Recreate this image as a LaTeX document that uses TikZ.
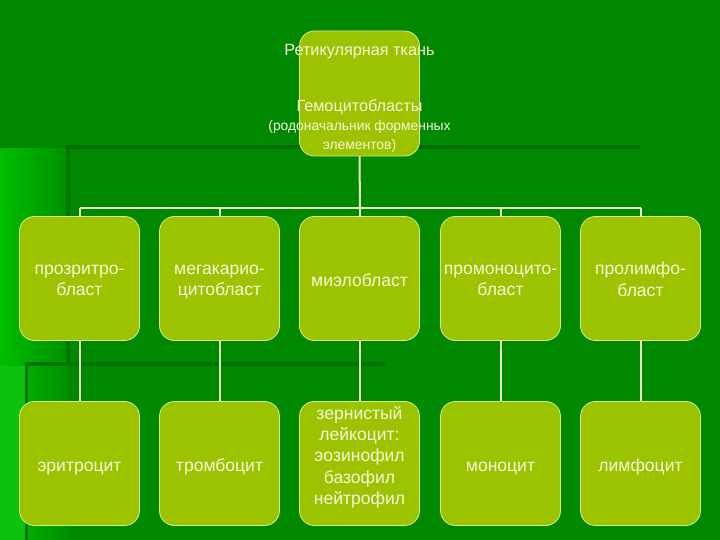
\documentclass[tikz,border=0pt]{standalone}
\usepackage{fontspec}
\setmainfont{Liberation Sans}
\usepackage{xcolor}
\usetikzlibrary{positioning}
\definecolor{bgGreen}{HTML}{008800}
\definecolor{bgLight}{HTML}{00BE00}
\definecolor{bgDark}{HTML}{006C00}
\definecolor{cellFill}{HTML}{9CC300}
\definecolor{cellEdge}{HTML}{D6EE8A}
\definecolor{cellText}{HTML}{F6F6DA}
\definecolor{wireCol}{HTML}{E8F6CC}
\newcommand{\bigline}{\fontsize{16.3}{19}\selectfont}

\begin{document}
\begin{tikzpicture}[
    x=1bp, y=-1bp,
    cell/.style={draw=cellEdge, fill=cellFill, line width=0.8bp,
                 rounded corners=15bp, minimum width=120bp, minimum height=124bp,
                 inner sep=0pt},
    celltext/.style={align=center, text=cellText, inner sep=0pt,
                     font=\fontsize{17.6}{21.5}\selectfont,
                     execute at begin node=\strut, execute at end node=\strut},
    toptext/.style={align=center, text=cellText, inner sep=0pt,
                    font=\fontsize{13.9}{19}\selectfont},
    wire/.style={draw=wireCol, line width=2bp},
]
  % background of the slide
  \fill[bgGreen] (0,0) rectangle (720,540);
  \shade[left color=bgLight, right color=bgGreen!85!bgLight] (0,149) rectangle (68,540);
  \fill[bgLight!95!white] (0,366) rectangle (25,540);
  \fill[bgDark] (65,145) rectangle (640,149);
  \fill[bgDark!70!bgGreen] (66,149) rectangle (70,362);
  \fill[bgDark!70!bgGreen] (25,362) rectangle (385,366);
  \fill[bgDark!50!bgGreen] (25,366) rectangle (28,540);
  \useasboundingbox (0,0) rectangle (720,540);
  % root
  \node[cell, minimum height=125bp] (top) at (359.5,93.5) {};
  \node[toptext] (topT) at ([yshift=-4.5bp]top.center)
    {{\bigline Ретикулярная ткань}\\[37bp]{\bigline Гемоцитобласты}\\(родоначальник форменных\\элементов)};
  % blast row
  \node[cell] (prozr)   at (79.5,278.5)  {};
  \node[cell] (megak)   at (219.5,278.5) {};
  \node[cell] (mielo)   at (359.5,278.5) {};
  \node[cell] (promono) at (500.5,278.5) {};
  \node[cell] (prolimf) at (640.5,278.5) {};
  \node[celltext] (prozrT)   at ([yshift=-5bp]prozr.center)     {прозритро-\\бласт};
  \node[celltext] (megakT)   at ([yshift=-5bp]megak.center)     {мегакарио-\\цитобласт};
  \node[celltext] (mieloT)   at ([yshift=-3.7bp]mielo.center)   {миэлобласт};
  \node[celltext] (promonoT) at ([yshift=-5bp]promono.center)   {промоноцито-\\бласт};
  \node[celltext] (prolimfT) at ([yshift=-4bp]prolimf.center)   {пролимфо-\\бласт};
  % mature row
  \node[cell] (eritr)   at (79.5,463.5)  {};
  \node[cell] (tromb)   at (219.5,463.5) {};
  \node[cell] (zernist) at (359.5,463.5) {};
  \node[cell] (monoc)   at (500.5,463.5) {};
  \node[cell] (limf)    at (640.5,463.5) {};
  \node[celltext] (eritrT) at ([yshift=-3.5bp]eritr.center) {эритроцит};
  \node[celltext] (trombT) at ([yshift=-3.5bp]tromb.center) {тромбоцит};
  \node[celltext] (zernistT) at ([yshift=4.8bp]zernist.center)
    {зернистый\\лейкоцит:\\эозинофил\\базофил\\нейтрофил};
  \node[celltext] (monocT) at ([yshift=-3.5bp]monoc.center) {моноцит};
  \node[celltext] (limfT)  at ([yshift=-3.5bp]limf.center)  {лимфоцит};
  % connectors
  \coordinate (bus) at (360,208);
  \draw[wire] (top.south) -- (bus);
  \draw[wire] (bus -| prozr.north) -- (bus -| prolimf.north);
  \foreach \n in {prozr,megak,mielo,promono,prolimf}
    \draw[wire] (bus -| \n.north) -- (\n.north);
  \foreach \a/\b in {prozr/eritr,megak/tromb,mielo/zernist,promono/monoc,prolimf/limf}
    \draw[wire] (\a.south) -- (\b.north);
\end{tikzpicture}
\end{document}
